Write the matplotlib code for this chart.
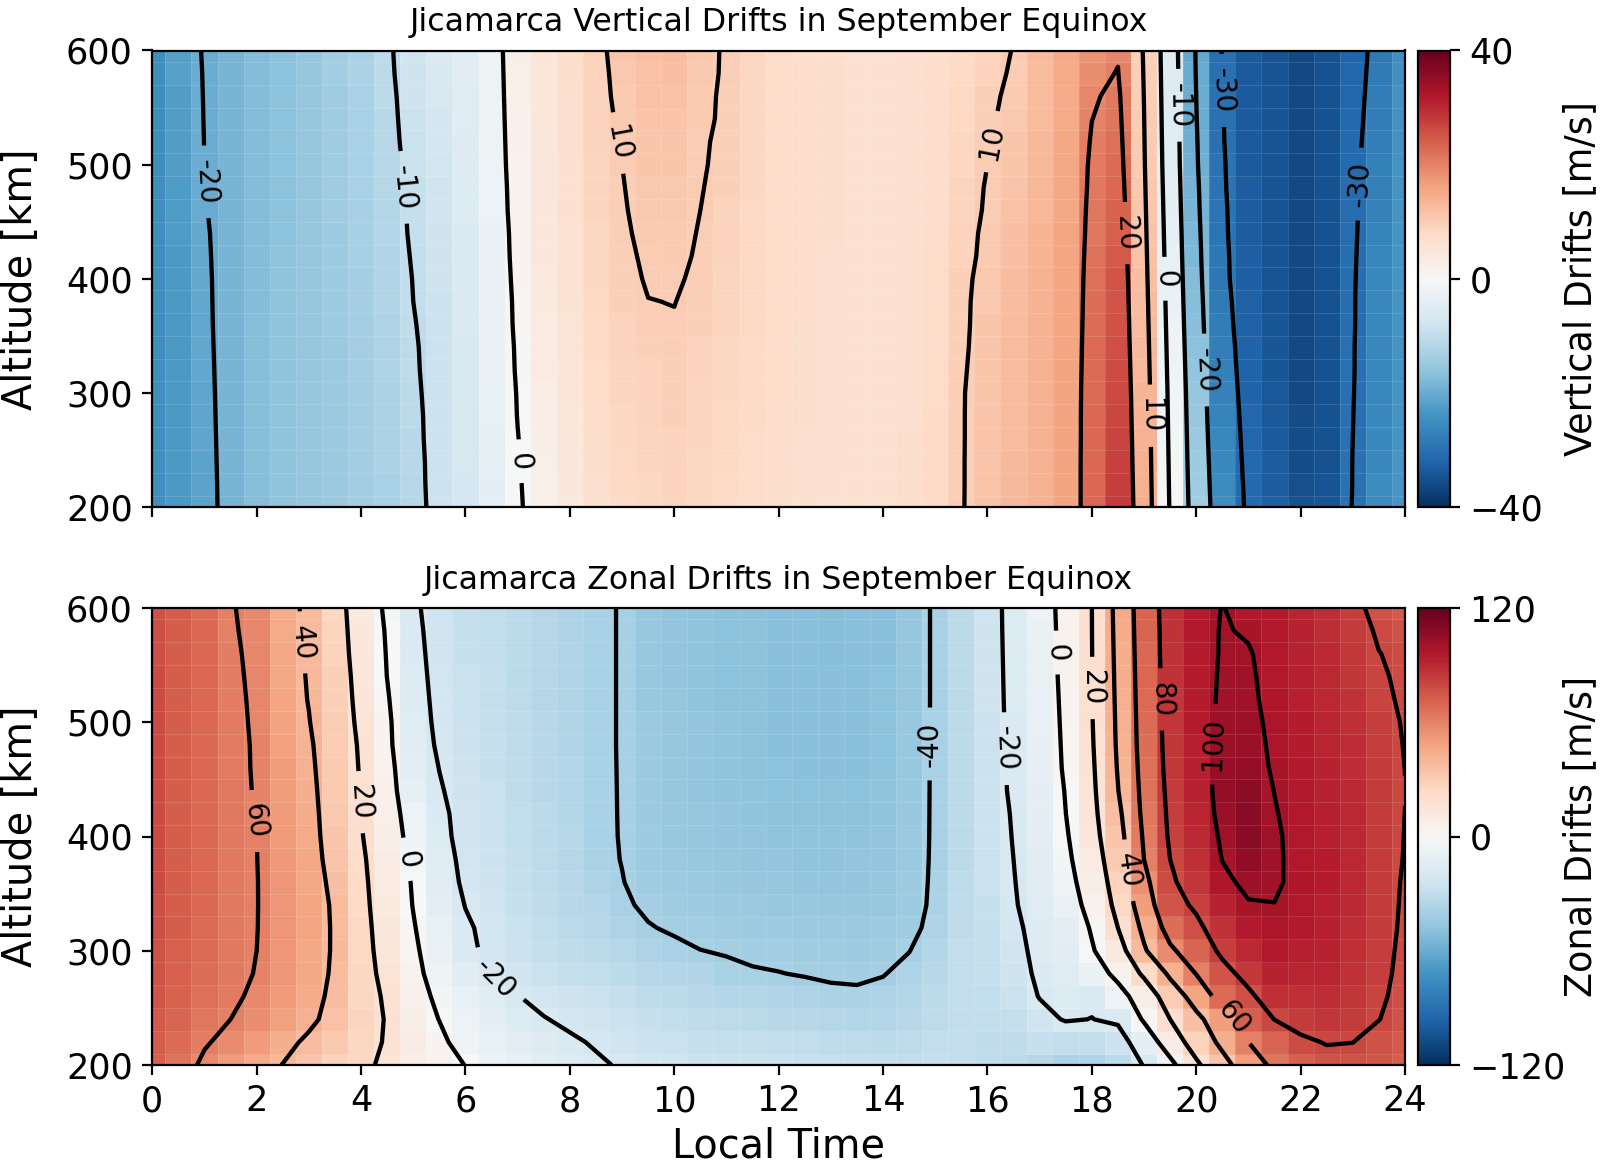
import numpy as np
import matplotlib
matplotlib.use('Agg')
import matplotlib.pyplot as plt

local_time = np.arange(0, 24.5, 0.5)
altitude = np.arange(200, 620, 20)
time_ticks = list(range(0, 26, 2))
alt_ticks = [200, 300, 400, 500, 600]

# one line per local time, altitudes 200 -> 600 km
vertical_cols = [
    [-24.5,-24.5,-24.5,-24.5,-24.5,-24.5,-24.6,-24.7,-24.8,-24.9,-25,-25,-25,-25,-25,-25,-25,-25,-25,-25,-25],
    [-23,-23,-23,-23,-23,-23,-23,-23,-23,-23,-23,-22.9,-22.8,-22.7,-22.6,-22.5,-22.4,-22.3,-22.2,-22.1,-22],
    [-21.5,-21.4,-21.3,-21.2,-21.1,-21,-20.9,-20.8,-20.7,-20.65,-20.6,-20.5,-20.4,-20.2,-20.1,-20,-19.95,-19.9,-19.85,-19.8,-19.7],
    [-18.5,-18.5,-18.5,-18.5,-18.5,-18.5,-18.5,-18.5,-18.5,-18.5,-18.5,-18.5,-18.5,-18.5,-18.5,-18.5,-18.5,-18.5,-18.5,-18.6,-18.6],
    [-17,-17,-17,-17,-17,-17,-17,-17.1,-17.1,-17.2,-17.2,-17.2,-17.3,-17.3,-17.4,-17.4,-17.4,-17.4,-17.5,-17.5,-17.5],
    [-16,-16,-16,-16,-16,-16,-16,-16.1,-16.1,-16.2,-16.2,-16.2,-16.3,-16.3,-16.4,-16.4,-16.4,-16.4,-16.5,-16.5,-16.5],
    [-15.5,-15.5,-15.5,-15.5,-15.5,-15.5,-15.5,-15.5,-15.5,-15.5,-15.5,-15.5,-15.5,-15.5,-15.5,-15.5,-15.5,-15.5,-15.5,-15.5,-15.5],
    [-15,-15,-14.9,-14.9,-14.8,-14.8,-14.7,-14.7,-14.6,-14.6,-14.5,-14.4,-14.4,-14.3,-14.3,-14.2,-14.2,-14.1,-14.1,-14,-14],
    [-14,-14,-13.9,-13.9,-13.8,-13.8,-13.7,-13.7,-13.6,-13.6,-13.5,-13.4,-13.3,-13.2,-13.1,-13,-13,-12.9,-12.9,-12.8,-12.8],
    [-13,-12.9,-12.8,-12.8,-12.7,-12.6,-12.5,-12.4,-12.3,-12.1,-12,-11.9,-11.7,-11.6,-11.4,-11.3,-11.1,-11,-10.9,-10.7,-10.6],
    [-11.5,-11.3,-11.2,-11,-10.9,-10.7,-10.5,-10.4,-10.2,-10,-9.9,-9.7,-9.5,-9.4,-9.2,-9,-8.8,-8.6,-8.4,-8.2,-8],
    [-8.5,-8.5,-8.5,-8.5,-8.5,-8.5,-8.5,-8.5,-8.5,-8.5,-8.4,-8.3,-8.2,-8.1,-8,-7.8,-7.5,-7.2,-6.8,-6.4,-6],
    [-7,-6.9,-6.8,-6.7,-6.6,-6.5,-6.4,-6.3,-6.2,-6.1,-6,-5.8,-5.7,-5.5,-5.4,-5.2,-5.1,-4.9,-4.8,-4.6,-4.5],
    [-4,-3.8,-3.7,-3.5,-3.4,-3.2,-3.1,-3,-2.9,-2.9,-2.8,-2.7,-2.6,-2.4,-2.3,-2.2,-2.1,-2.1,-2,-2,-1.9],
    [-0.5,-0.4,-0.2,-0.1,0.1,0.2,0.4,0.5,0.7,0.8,1,1.2,1.3,1.5,1.6,1.8,1.9,2.1,2.2,2.4,2.5],
    [2,2.2,2.4,2.6,2.8,3,3.2,3.4,3.6,3.8,4,4.1,4.2,4.3,4.4,4.5,4.6,4.7,4.8,4.9,5],
    [4,4.2,4.4,4.6,4.8,5,5.2,5.4,5.6,5.8,6,6.1,6.2,6.3,6.4,6.5,6.6,6.7,6.8,6.9,7],
    [6.5,6.7,6.9,7.1,7.3,7.5,7.7,7.9,8.1,8.3,8.5,8.6,8.7,8.8,8.9,9,9.1,9.1,9.2,9.2,9.3],
    [8,8.2,8.3,8.5,8.6,8.8,8.9,9.1,9.2,9.4,9.5,9.6,9.7,9.8,9.9,10,10.2,10.4,10.6,10.8,11],
    [8.5,8.6,8.8,8.9,9.1,9.2,9.3,9.5,9.8,9.97,10.15,10.3,10.5,10.7,10.8,11,11.2,11.4,11.6,11.8,12],
    [9,9.1,9.2,9.3,9.4,9.5,9.6,9.8,9.9,10.03,10.2,10.4,10.5,10.7,10.8,11,11.3,11.5,11.8,12,12.3],
    [8.5,8.6,8.7,8.8,8.9,9,9.1,9.3,9.4,9.6,9.7,9.8,9.9,10,10.1,10.2,10.3,10.5,10.6,10.7,10.8],
    [8,8.1,8.2,8.3,8.4,8.5,8.6,8.7,8.8,8.9,9,9.1,9.2,9.3,9.4,9.5,9.5,9.6,9.6,9.7,9.7],
    [7.5,7.6,7.7,7.8,7.9,8,8.1,8.1,8.2,8.2,8.3,8.3,8.4,8.4,8.5,8.5,8.5,8.5,8.6,8.6,8.6],
    [7,7.1,7.2,7.3,7.4,7.5,7.5,7.6,7.6,7.7,7.7,7.7,7.8,7.8,7.8,7.8,7.8,7.8,7.8,7.8,7.8],
    [6.5,6.6,6.7,6.8,6.9,7,7,7.1,7.1,7.2,7.2,7.2,7.2,7.3,7.3,7.3,7.3,7.3,7.3,7.3,7.3],
    [6.5,6.5,6.6,6.6,6.7,6.7,6.7,6.8,6.8,6.8,6.8,6.8,6.9,6.9,6.9,6.9,6.9,6.9,6.9,6.9,6.9],
    [6.5,6.5,6.5,6.5,6.5,6.5,6.5,6.5,6.5,6.5,6.5,6.5,6.5,6.5,6.5,6.5,6.5,6.5,6.5,6.5,6.5],
    [6.5,6.5,6.5,6.5,6.4,6.4,6.4,6.4,6.4,6.4,6.4,6.4,6.4,6.4,6.4,6.4,6.4,6.5,6.5,6.5,6.5],
    [7,7,6.9,6.9,6.8,6.8,6.8,6.8,6.7,6.7,6.7,6.7,6.7,6.7,6.7,6.7,6.7,6.7,6.8,6.8,6.8],
    [8,8,8,7.9,7.9,7.8,7.7,7.7,7.6,7.6,7.5,7.5,7.4,7.4,7.3,7.3,7.3,7.3,7.3,7.3,7.3],
    [9.8,9.8,9.8,9.8,9.8,9.8,9.7,9.6,9.5,9.5,9.4,9.2,9.1,8.9,8.8,8.6,8.5,8.4,8.2,8.1,8],
    [11.5,11.4,11.4,11.3,11.3,11.2,11.1,11,11,10.9,10.8,10.6,10.5,10.3,10.2,10,9.8,9.6,9.4,9.2,9],
    [13,12.9,12.9,12.8,12.8,12.7,12.6,12.6,12.5,12.4,12.3,12.1,11.9,11.6,11.4,11.2,11,10.8,10.6,10.3,10.1],
    [14,14,14,14,14,14,14,13.9,13.9,13.8,13.8,13.6,13.5,13.3,13.2,13,12.9,12.8,12.7,12.6,12.5],
    [16,16,16,16,16,16,16,15.9,15.9,15.8,15.8,15.7,15.7,15.6,15.6,15.5,15.4,15.3,15.2,15.1,15],
    [23,23,23,22.9,22.9,22.8,22.6,22.5,22.3,22.2,22,21.8,21.5,21.3,21,20.8,20.4,19.95,19.5,18.7,18],
    [28,27.7,27.4,27.1,26.8,26.5,26.2,25.9,25.6,25.3,25,24.5,24,23.5,23,22.5,22,21.5,21,20.2,19.5],
    [14.5,14.3,14.1,13.9,13.7,13.5,13.2,12.9,12.6,12.3,12,11.7,11.4,11.1,10.8,10.5,10.3,10.1,9.9,9.7,9.5],
    [-0.5,-0.7,-0.9,-1.1,-1.3,-1.5,-1.8,-2.1,-2.4,-2.7,-3,-3.3,-3.6,-3.9,-4.2,-4.5,-4.7,-4.9,-5.1,-5.3,-5.5],
    [-14,-14.3,-14.6,-14.9,-15.2,-15.5,-15.9,-16.3,-16.7,-17.1,-17.5,-17.9,-18.2,-18.6,-18.9,-19.3,-19.5,-19.8,-20,-20.3,-20.5],
    [-25,-25.4,-25.8,-26.2,-26.6,-27,-27.4,-27.7,-28.1,-28.4,-28.8,-28.9,-29.1,-29.2,-29.4,-29.5,-29.7,-29.8,-30,-30.1,-30.3],
    [-31,-31.2,-31.4,-31.6,-31.8,-32,-32.2,-32.4,-32.6,-32.8,-33,-33.1,-33.2,-33.3,-33.4,-33.5,-33.5,-33.5,-33.5,-33.5,-33.5],
    [-33,-33.2,-33.4,-33.6,-33.8,-34,-34.1,-34.2,-34.3,-34.4,-34.5,-34.5,-34.5,-34.5,-34.5,-34.5,-34.5,-34.5,-34.5,-34.5,-34.5],
    [-35,-35.2,-35.4,-35.6,-35.8,-36,-36,-36,-36,-36,-36,-36,-36,-36,-36,-36,-36,-36,-36,-36,-36],
    [-34.5,-34.6,-34.7,-34.8,-34.9,-35,-35,-35,-35,-35,-35,-35,-35,-35,-35,-35,-35,-35,-35,-35,-35],
    [-29.8,-29.9,-29.9,-30,-30.1,-30.2,-30.3,-30.3,-30.4,-30.4,-30.5,-30.6,-30.7,-30.8,-30.9,-31,-31.2,-31.4,-31.6,-31.8,-32],
    [-25.5,-25.6,-25.7,-25.8,-25.9,-26,-26,-26,-26,-26,-26,-26.3,-26.6,-26.9,-27.2,-27.5,-27.7,-27.9,-28.1,-28.3,-28.5],
    [-23.5,-23.6,-23.7,-23.8,-23.9,-24,-24,-24,-24,-24,-24,-24,-24,-24,-24,-24,-24.1,-24.2,-24.3,-24.4,-24.5],
]

zonal_cols = [
    [72,73,74,75,76,76,77,77,78,78,78,78,78,78,78,78,78,78,77,77,76],
    [65,68,70,71,72,72,73,73,73,73,73,73,73,73,73,73,73,73,73,73,73],
    [58,61,64,66,67,68,68,69,69,69,69,69,69,69,69,69,69,69,69,69,68],
    [51,57,60,62,63,63.5,63.5,63.5,63.5,63.5,63.5,63,63,62.5,62.5,62,61.8,61.5,61.2,60.8,60.5],
    [45,51,55.5,58,59.5,60,60.3,60.4,60.4,60.2,60,59.6,59.3,59.2,59.1,59,58.8,58.6,58.4,58.2,58],
    [39.7,44,49,51,52.5,53,53.2,53,52.5,52,51.5,51,50.5,50,49,48,47,46.5,46,45,44.5],
    [34,37.5,43,44.5,46,46.5,47,47,46.5,46,45.5,44.8,44,43,42,40.5,39.5,39,38.5,38,37.5],
    [28,32,35,37,38,38.5,38.4,38,36.5,34.5,33,32.3,31.5,31,30.5,30,29,28.5,27.5,27,26],
    [24.5,26,26.5,26,25.5,25,24.5,24,23.5,22.5,21,20,19.5,18.7,18,16.5,15.5,14.5,13.5,12.5,12],
    [16,18.5,19,18,16,14.5,13.5,12,10.5,9.5,8,7,6.5,5.5,3.5,3,1.5,-0.2,-0.8,-1.5,-3],
    [9,10,8,6,4,2.5,1,-0.5,-1.2,-3,-5,-7,-11,-13,-14,-15,-16,-16.5,-17,-17.5,-18],
    [4,3,-0.3,-3,-6,-8,-10,-13,-14,-15,-16.5,-17.5,-19,-20.2,-21.5,-22.2,-22.5,-23,-23.5,-24,-25],
    [-0.2,-5.5,-7.5,-10,-14,-17.5,-18.5,-20.3,-22,-23,-24,-24,-24.5,-25,-25.5,-26,-26.5,-27,-27.5,-28,-28.5],
    [-6,-10,-12,-15,-20.5,-22.5,-23,-24,-25,-25.5,-26,-26.5,-27,-27.5,-28,-28.3,-28.6,-29,-29.3,-29.6,-30],
    [-10,-13,-16,-19.7,-24,-26,-27,-28,-28.5,-29,-29.5,-30,-30.3,-30.6,-31,-31.3,-31.6,-32,-32,-32.5,-32.5],
    [-13.5,-15.5,-19.5,-23,-26.5,-28.5,-29.5,-30.5,-31,-31.5,-32,-32.5,-33,-33,-33.5,-33.5,-34,-34,-34.5,-34.5,-35],
    [-16,-18.5,-22,-25,-28.5,-30.5,-32,-33,-33.5,-34,-34.5,-35,-35.5,-35.5,-36,-36,-36.5,-36.5,-36.5,-37,-37],
    [-18.5,-21,-24,-27,-30,-32.5,-34,-35.5,-36.8,-38,-38.5,-38.7,-38.8,-38.9,-39,-39,-39,-39,-39,-39,-39],
    [-21,-23.5,-26,-29,-32,-34.5,-37,-39,-39.75,-40.2,-40.3,-40.3,-40.3,-40.3,-40.3,-40.3,-40.3,-40.3,-40.3,-40.3,-40.3],
    [-23,-25.5,-28,-31,-34,-37.2,-39.6,-41.1,-42.5,-43.2,-43.8,-44.2,-44.5,-44.7,-45,-45,-45.2,-45.3,-45.4,-45.5,-45.5],
    [-25,-27,-29.5,-32.5,-35.5,-38.6,-40.8,-42.5,-44,-44.8,-45.3,-45.8,-46,-46.3,-46.5,-46.7,-46.8,-47,-47,-47,-47],
    [-25.5,-28,-30.5,-33.5,-36.5,-39.9,-42,-43.8,-45,-45.8,-46.3,-46.8,-47.2,-47.5,-47.7,-47.8,-48,-48,-48,-48,-48],
    [-26,-28.5,-31.5,-35,-38.5,-40.5,-43,-44.5,-45.8,-46.5,-47,-47.5,-48,-48.2,-48.5,-48.6,-48.8,-48.8,-49,-49,-49],
    [-26.5,-29,-32,-35.5,-39.3,-41.5,-43.5,-45,-46.3,-47,-47.8,-48.3,-48.7,-49,-49.2,-49.3,-49.5,-49.5,-49.6,-49.6,-49.6],
    [-27,-29.5,-33,-36.5,-39.8,-42,-44,-45.5,-46.8,-47.6,-48.2,-48.8,-49.2,-49.5,-49.7,-49.8,-50,-50,-50,-50,-50],
    [-27.5,-30,-33.5,-37,-40.5,-42.5,-44.3,-45.8,-47,-48,-48.5,-49,-49.5,-49.8,-50,-50.2,-50.3,-50.4,-50.5,-50.5,-50.5],
    [-28,-31,-34.5,-38.2,-41.2,-43,-44.5,-46,-47.2,-48,-48.6,-49.2,-49.6,-50,-50.2,-50.4,-50.5,-50.6,-50.7,-50.7,-50.8],
    [-28.5,-31.5,-35,-38.3,-41.7,-43.2,-44.6,-46,-47,-47.8,-48.5,-49,-49.5,-49.8,-50,-50.2,-50.4,-50.5,-50.6,-50.6,-50.6],
    [-29.5,-32,-35,-37.5,-40.4,-42.5,-44,-45.4,-46.4,-47,-47.7,-48.2,-48.7,-49,-49.2,-49.4,-49.5,-49.6,-49.7,-49.7,-49.7],
    [-29.5,-31.5,-33.5,-35.5,-37.5,-40.2,-42.5,-43.5,-44,-44.5,-45,-45.2,-45.4,-45.5,-45.6,-45.8,-46,-46,-46,-46,-46],
    [-29,-29.5,-31,-32,-33.5,-35.5,-37.2,-38.2,-38.4,-38.5,-38.5,-38.5,-38.5,-38.5,-38.5,-38.5,-38.5,-38.5,-38.5,-38.5,-38.5],
    [-30,-30,-30,-30,-30,-30,-30.5,-31,-31.5,-32,-32,-32,-32,-32,-32,-32,-32,-32,-32,-32,-32],
    [-31,-30.5,-30,-29.5,-29,-28.5,-28,-27.5,-27,-26.5,-26,-26,-26,-25.8,-25.6,-25.5,-25.3,-25.2,-25.1,-25,-25],
    [-32,-30.5,-29,-27,-25,-24,-22.5,-21,-20.5,-20,-19.5,-19,-18,-17.7,-17.3,-17,-16.8,-16.6,-16.4,-16.2,-16],
    [-34,-28,-24,-19.5,-17.8,-16.5,-15.8,-15,-14,-13.5,-12.5,-12,-11.5,-11,-10.5,-10,-9.5,-9,-8.5,-8,-7.5],
    [-38,-30,-19,-16,-14.5,-13.5,-12.5,-8.5,-5.5,-3.5,-1.8,-0.1,0.7,2,2.5,3,3.5,4,4.3,4.7,5],
    [-37,-30,-20.2,-18,-8,-1.5,1.5,5.5,8,11,14,15.5,16.5,17.5,18.5,19.2,19.4,19.6,19.7,19.85,19.95],
    [-32,-26,-18,-6,4,12,20,24.5,28,31,33,36,39.5,41,42,42.5,43,43.5,44,44.5,45],
    [-19.2,-12,2,8,23,38,44,50,55,60,62,64,65,66,67,67.5,68,68.5,69,69.5,70],
    [-5,10,20,30,43,57,67,75,78,80,82,83,84,85,85.5,86,86,86.5,87,87,87.5],
    [17,28,36,47,60.5,70,77,82,86,88,90,91,92,93,93.5,94,94,94.2,94.5,95,94],
    [34,44,50,68,75,83,87,92,97,100.3,102,104,105,104.5,103.5,102.5,102,101.5,101,100.8,100.4],
    [50,60,72,77,85,90,95,99,103,106,108,108,107,105.5,104,103,102,101.5,100.8,99,96],
    [64,70,80.2,88,92,95,97.5,99.8,101.5,101.8,101.5,100.7,99.8,98.5,98,97.5,97,96.5,96,95.5,95],
    [72,78,84,88,91,93,95,96,97,96.5,96.5,96,95.5,95,94.5,94,93.5,93,92.5,92,91.5],
    [76,80.6,86,89,91,92,93,93.5,94,94,93.5,93,92.5,92,91.5,91,90.5,90,89.5,89,88.5],
    [76.5,80.1,83.5,85.5,87,88,89,89.5,90,90,90,90,89.5,89,88.5,88,87,86,85,84,83],
    [75,76.5,80.2,81.5,82.5,83,83.5,83.5,83.5,84,84,84,84,83.5,83,82.5,81.5,81,80.2,78.8,76.5],
    [73,74,76,77,77.5,78,78.5,78.9,79.2,79.6,79.8,79.95,80.1,79.95,79.7,79.4,79,78.5,78,76,74],
]

vertical_levels = [-30, -20, -10, 0, 10, 20]
zonal_levels = [-40, -20, 0, 20, 40, 60, 80, 100]

W, H = 1600, 1164
fig = plt.figure(figsize=(W / 200, H / 200), dpi=200)


def box(x0, y0, x1, y1):
    return [x0 / W, 1 - y1 / H, (x1 - x0) / W, (y1 - y0) / H]


ax1 = fig.add_axes(box(152.3, 50.5, 1405, 507))
ax2 = fig.add_axes(box(152.3, 608, 1405, 1065))
cax1 = fig.add_axes(box(1418, 50.5, 1450, 507))
cax2 = fig.add_axes(box(1418, 608, 1450, 1065))

panels = [
    (ax1, cax1, np.array(vertical_cols).T, 40, vertical_levels, 'Vertical Drifts',
     [(1.05, 485), (4.8, 480), (7.0, 240), (8.93, 519), (16.1, 520), (18.65, 440), (19.15, 280),
      (19.4, 400), (19.65, 552), (20.15, 320), (20.54, 565), (23.1, 483)]),
    (ax2, cax2, np.array(zonal_cols).T, 120, zonal_levels, 'Zonal Drifts',
     [(2.03, 414), (2.9, 570), (3.97, 430), (4.87, 380), (6.6, 278), (14.9, 481), (16.4, 477),
      (17.33, 561), (18.0, 530), (19.33, 520), (20.25, 481), (18.65, 370), (20.75, 243)]),
]

for ax, cax, z, vmax, levels, name, label_pos in panels:
    mesh = ax.pcolormesh(local_time, altitude, z, shading='nearest', cmap='RdBu_r',
                         vmin=-vmax, vmax=vmax, edgecolors=(1, 1, 1, 0.12), linewidth=0.3)
    cs = ax.contour(local_time, altitude, z, levels=levels, colors='k', linewidths=1.55,
                    negative_linestyles='solid')
    ax.clabel(cs, fmt='%d', fontsize=10, inline=True, inline_spacing=12, manual=label_pos)
    ax.set_xlim(0, 24)
    ax.set_ylim(200, 600)
    ax.set_xticks(time_ticks)
    ax.set_yticks(alt_ticks)
    ax.set_ylabel('Altitude [km]', fontsize=14.3)
    ax.yaxis.set_label_coords(-0.089, 0.5)
    ax.tick_params(labelsize=12.6)
    ax.set_title('Jicamarca %s in September Equinox' % name, fontsize=11.4, pad=7)
    cb = fig.colorbar(mesh, cax=cax, ticks=[-vmax, 0, vmax])
    cb.ax.tick_params(labelsize=12.6)
    cb.set_label('%s [m/s]' % name, fontsize=13.2)
    cb.ax.yaxis.set_label_coords(4.5, 0.5)

ax1.set_xticklabels([])
ax2.set_xlabel('Local Time', fontsize=14.3, labelpad=3)

fig.savefig('out.png', dpi=200)
